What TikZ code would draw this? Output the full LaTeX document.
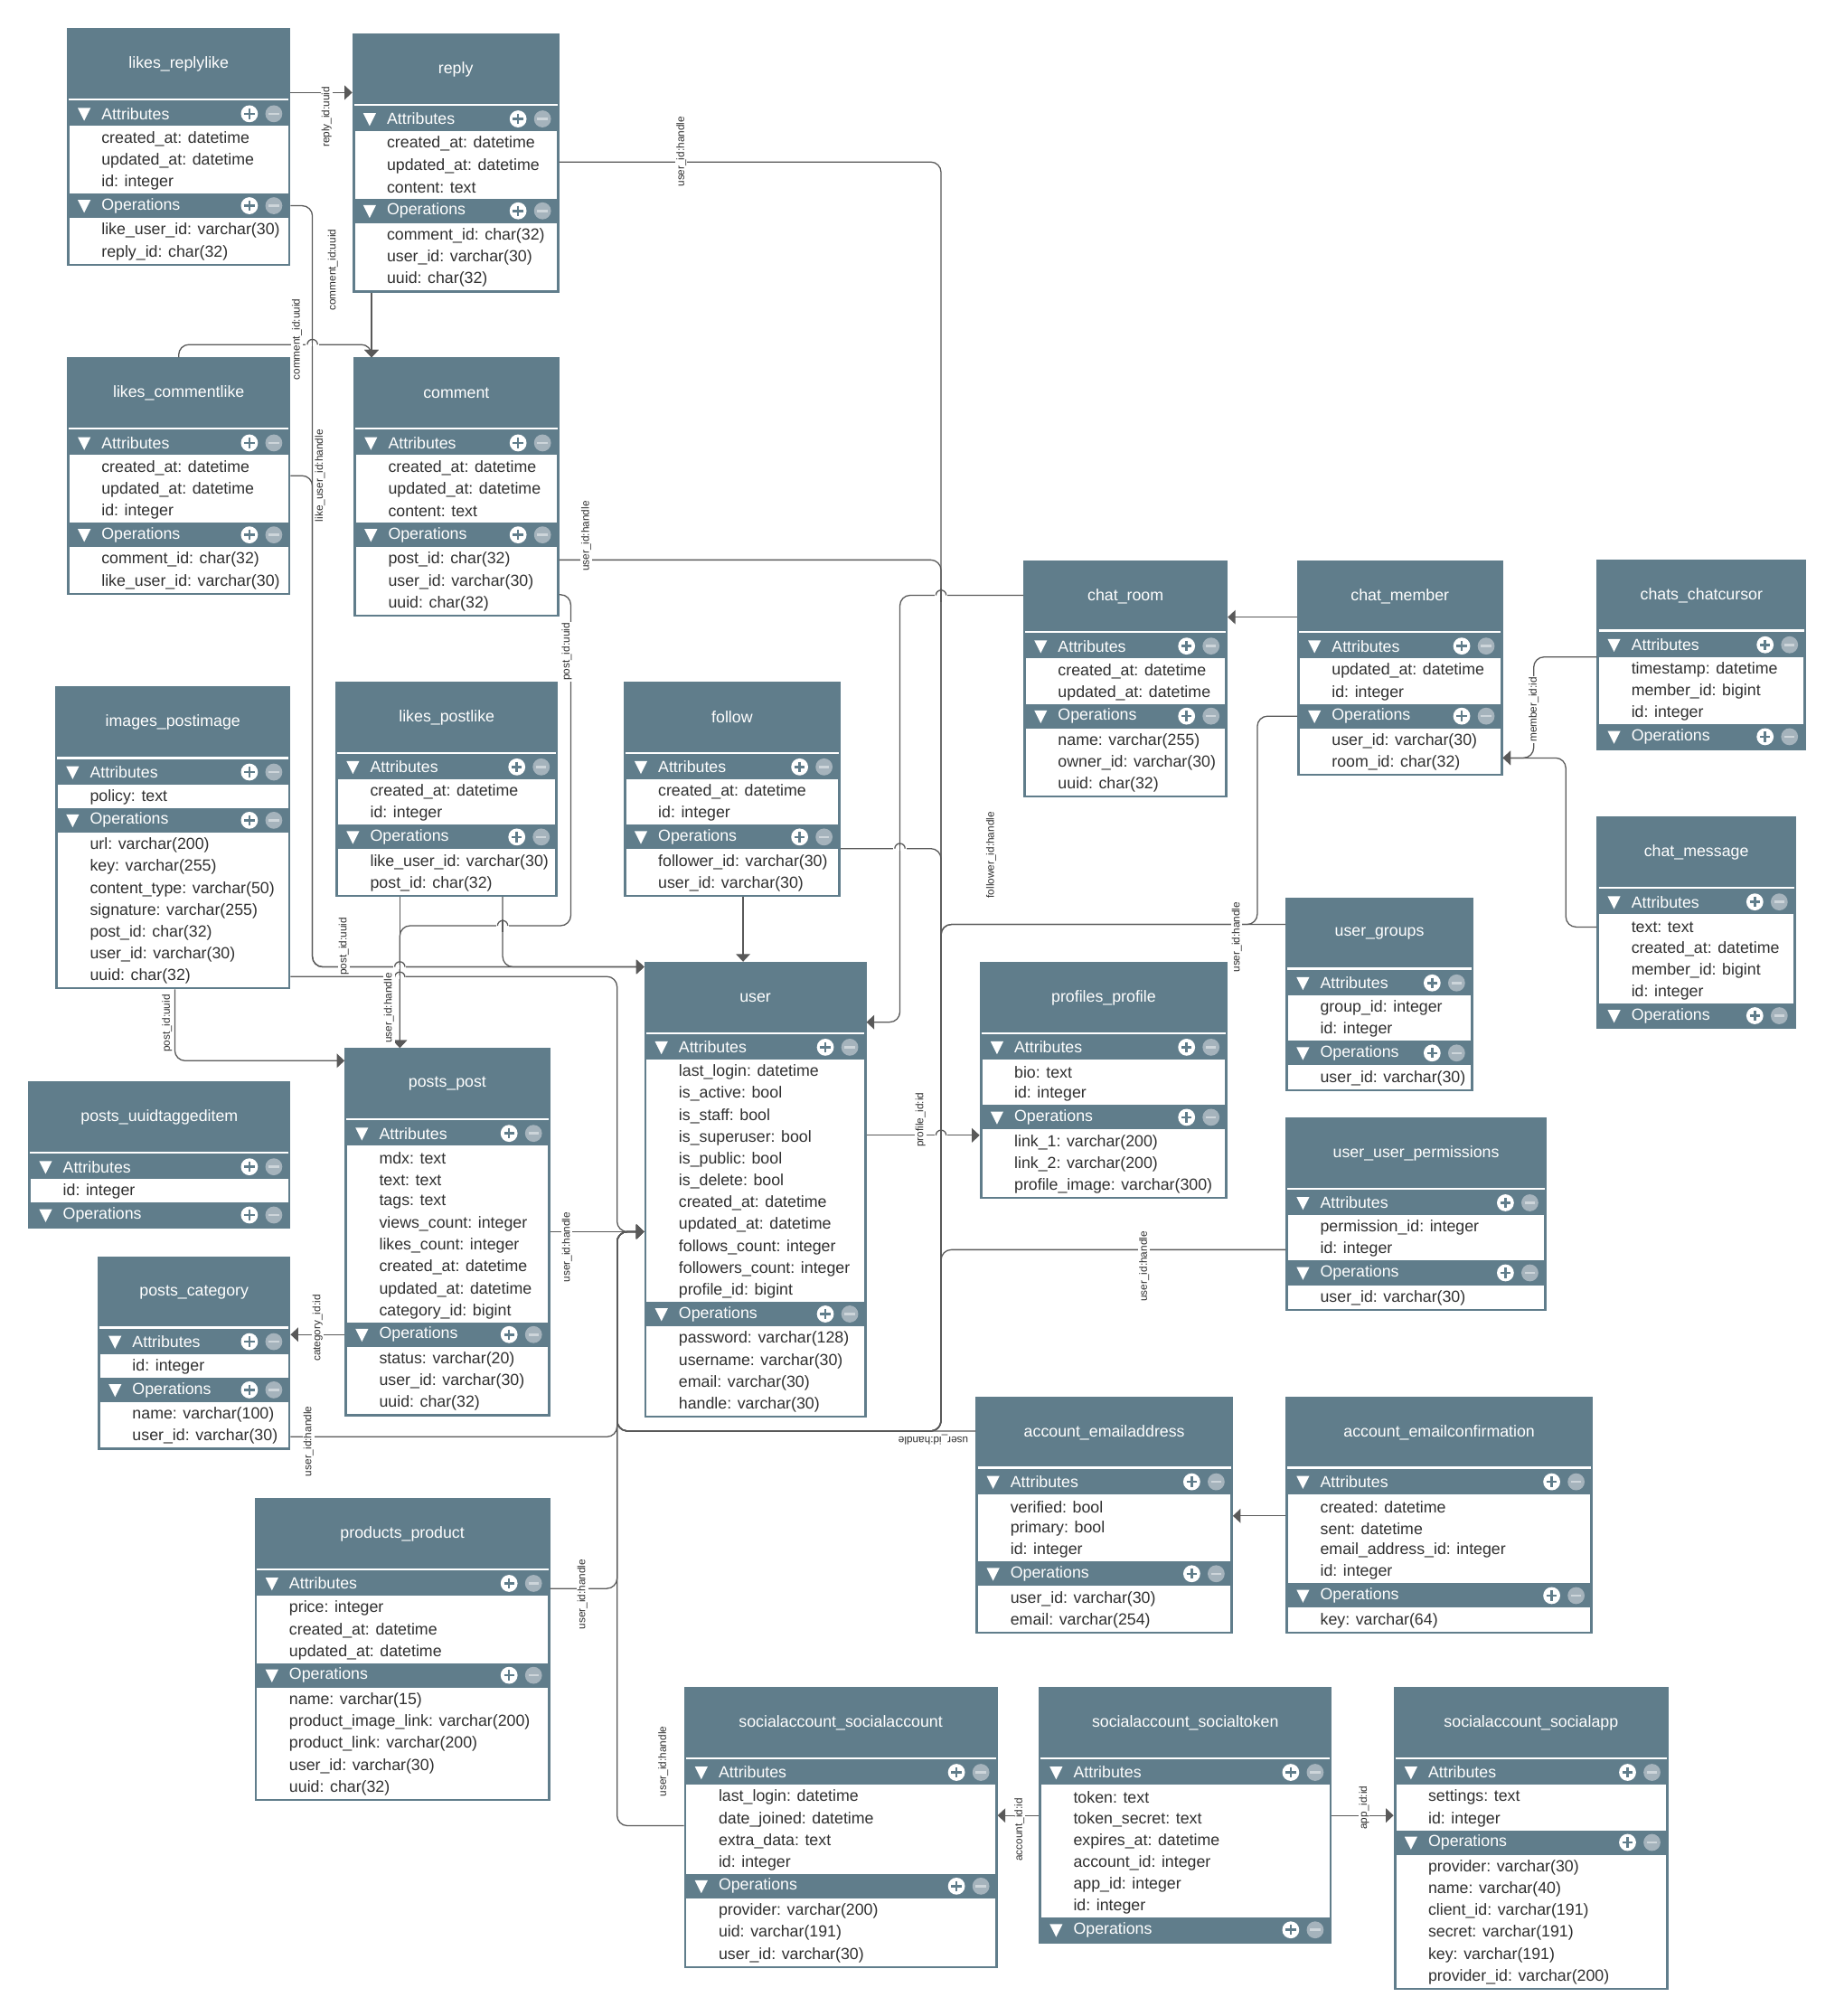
\documentclass[tikz,border=0pt]{standalone}
\usepackage{fontspec}
\setmainfont{Liberation Sans}
\usetikzlibrary{arrows.meta,calc}

\definecolor{pizarra}{HTML}{607D8B}
\definecolor{menos}{HTML}{A5B3BC}
\definecolor{menosraya}{HTML}{CDD5DA}
\definecolor{linea}{HTML}{595959}
\definecolor{texto}{HTML}{303030}

% barra de seccion: nombre, x izq, x der, y sup, texto
\newcommand{\barra}[5]{%
  \pgfmathsetmacro{\bw}{#3-#2}%
  \node[caja, minimum width=\bw pt, minimum height=19pt] (#1) at ({(#2+#3)/2},{#4+9.5}) {};
  \fill[white] ({#2+8.5},{#4+5}) -- ({#2+18.5},{#4+5}) -- ({#2+13.5},{#4+15}) -- cycle;
  \node[rotulo] (#1-t) at ({#2+27},{#4+9.5}) {#5};
  \fill[white] ({#3-32},{#4+9.5}) circle[radius=6.6pt];
  \draw[pizarra, line width=1.8pt] ({#3-36},{#4+9.5}) -- ({#3-28},{#4+9.5})
    ({#3-32},{#4+5.5}) -- ({#3-32},{#4+13.5});
  \fill[menos] ({#3-13},{#4+9.5}) circle[radius=6.6pt];
  \draw[menosraya, line width=1.8pt] ({#3-17},{#4+9.5}) -- ({#3-9},{#4+9.5});
}

% tabla: nombre, x, y, ancho, titulo, atributos, operaciones
\newcommand{\tabla}[7]{%
  \pgfmathsetmacro{\xr}{#2+#4}%
  \xdef\na{0}\foreach \r [count=\i] in {#6} {\xdef\na{\i}}%
  \xdef\no{0}\if\relax\detokenize{#7}\relax\else\foreach \r [count=\i] in {#7} {\xdef\no{\i}}\fi
  \pgfmathsetmacro{\yo}{#3+77.5+17*\na}%
  \pgfmathsetmacro{\yb}{\yo+20.5+17*\no+(\no>0 ? 1.5 : -0.5)}%
  \pgfmathsetmacro{\hh}{\yb-#3}%
  \fill[pizarra] (#2,#3) rectangle (\xr,\yb);
  \node[caja, minimum width=#4pt, minimum height=\hh pt] (#1) at ({#2+#4/2},{(#3+\yb)/2}) {};
  \node[cabecera, minimum width=#4pt] (#1-h) at ({#2+#4/2},{#3+27}) {};
  \node[titulo] (#1-h-t) at ({#2+#4/2},{#3+28}) {#5};
  \draw[white, line width=1.6pt] ({#2+1.5},{#3+55.5}) -- ({\xr-1.5},{#3+55.5});
  \barra{#1-ab}{#2}{\xr}{#3+57}{Attributes}
  \fill[white] ({#2+2},{#3+76}) rectangle ({\xr-2},\yo);
  \foreach \r [count=\i] in {#6} {
    \node[fila, minimum width=#4pt] (#1-a\i) at ({#2+#4/2},{#3+77.5+17*\i-8.5}) {};
    \node[celda] (#1-a\i-t) at ({#2+27},{#3+77.5+17*\i-8.5}) {\r};
  }
  \barra{#1-ob}{#2}{\xr}{\yo}{Operations}
  \if\relax\detokenize{#7}\relax\else
  \fill[white] ({#2+2},{\yo+19}) rectangle ({\xr-2},{\yb-1.5});
  \foreach \r [count=\i] in {#7} {
    \node[fila, minimum width=#4pt] (#1-o\i) at ({#2+#4/2},{\yo+20.5+17*\i-8.5}) {};
    \node[celda] (#1-o\i-t) at ({#2+27},{\yo+20.5+17*\i-8.5}) {\r};
  }\fi
}

% salto de linea en un cruce
\newcommand{\salto}[2]{%
  \fill[white] ({#1-5},{#2-1.6}) rectangle ({#1+5},{#2+1.6});
  \draw[conexion] (#1,{#2-5}) -- (#1,{#2+5});
  \draw[conexion] ({#1-4},#2) arc[start angle=180, end angle=0, radius=4pt];
}

\begin{document}
\begin{tikzpicture}[x=1pt, y=-1pt, >={Triangle[length=6pt,width=11pt]},
  caja/.style={rectangle, draw=none, inner sep=0pt, outer sep=0pt},
  cabecera/.style={caja, minimum height=54pt},
  titulo/.style={caja, text=white, font=\fontsize{12.5}{15}\selectfont},
  fila/.style={caja, minimum height=17pt},
  celda/.style={caja, anchor=west, text=texto, font=\fontsize{12.5}{15}\selectfont},
  rotulo/.style={celda, text=white},
  conexion/.style={draw=linea, line width=0.9pt, rounded corners=8pt},
  flecha/.style={conexion, ->},
  etiqueta/.style={fill=white, inner sep=0.6pt, text=texto, font=\fontsize{8.3}{9}\selectfont, rotate=90}]
  \fill[white] (0,0) rectangle (1427,1568);
  \useasboundingbox (0,0) rectangle (1427,1568);

  \tabla{likesreplylike}{52}{22}{174}{likes\_replylike}{created\_at: datetime, updated\_at: datetime, id: integer}{like\_user\_id: varchar(30), reply\_id: char(32)}
  \tabla{reply}{274}{26}{161}{reply}{created\_at: datetime, updated\_at: datetime, content: text}{comment\_id: char(32), user\_id: varchar(30), uuid: char(32)}
  \tabla{likescommentlike}{52}{278}{174}{likes\_commentlike}{created\_at: datetime, updated\_at: datetime, id: integer}{comment\_id: char(32), like\_user\_id: varchar(30)}
  \tabla{comment}{275}{278}{160}{comment}{created\_at: datetime, updated\_at: datetime, content: text}{post\_id: char(32), user\_id: varchar(30), uuid: char(32)}
  \tabla{imagespostimage}{43}{534}{183}{images\_postimage}{policy: text}{url: varchar(200), key: varchar(255), content\_type: varchar(50), signature: varchar(255), post\_id: char(32), user\_id: varchar(30), uuid: char(32)}
  \tabla{likespostlike}{261}{530}{173}{likes\_postlike}{created\_at: datetime, id: integer}{like\_user\_id: varchar(30), post\_id: char(32)}
  \tabla{follow}{485}{530}{169}{follow}{created\_at: datetime, id: integer}{follower\_id: varchar(30), user\_id: varchar(30)}
  \tabla{user}{501}{748}{173}{user}{last\_login: datetime, is\_active: bool, is\_staff: bool, is\_superuser: bool, is\_public: bool, is\_delete: bool, created\_at: datetime, updated\_at: datetime, follows\_count: integer, followers\_count: integer, profile\_id: bigint}{password: varchar(128), username: varchar(30), email: varchar(30), handle: varchar(30)}
  \tabla{postspost}{268}{815}{160}{posts\_post}{mdx: text, text: text, tags: text, views\_count: integer, likes\_count: integer, created\_at: datetime, updated\_at: datetime, category\_id: bigint}{status: varchar(20), user\_id: varchar(30), uuid: char(32)}
  \tabla{postsuuidtaggeditem}{22}{841}{204}{posts\_uuidtaggeditem}{id: integer}{}
  \tabla{postscategory}{76}{977}{150}{posts\_category}{id: integer}{name: varchar(100), user\_id: varchar(30)}
  \tabla{productsproduct}{198}{1165}{230}{products\_product}{price: integer, created\_at: datetime, updated\_at: datetime}{name: varchar(15), product\_image\_link: varchar(200), product\_link: varchar(200), user\_id: varchar(30), uuid: char(32)}
  \tabla{chatroom}{796}{436}{159}{chat\_room}{created\_at: datetime, updated\_at: datetime}{name: varchar(255), owner\_id: varchar(30), uuid: char(32)}
  \tabla{chatmember}{1009}{436}{160}{chat\_member}{updated\_at: datetime, id: integer}{user\_id: varchar(30), room\_id: char(32)}
  \tabla{chatschatcursor}{1242}{435}{163}{chats\_chatcursor}{timestamp: datetime, member\_id: bigint, id: integer}{}
  \tabla{chatmessage}{1242}{635}{155}{chat\_message}{text: text, created\_at: datetime, member\_id: bigint, id: integer}{}
  \tabla{usergroups}{1000}{698}{146}{user\_groups}{group\_id: integer, id: integer}{user\_id: varchar(30)}
  \tabla{profilesprofile}{762}{748}{193}{profiles\_profile}{bio: text, id: integer}{link\_1: varchar(200), link\_2: varchar(200), profile\_image: varchar(300)}
  \tabla{userpermissions}{1000}{869}{203}{user\_user\_permissions}{permission\_id: integer, id: integer}{user\_id: varchar(30)}
  \tabla{accountemailaddress}{759}{1086}{200}{account\_emailaddress}{verified: bool, primary: bool, id: integer}{user\_id: varchar(30), email: varchar(254)}
  \tabla{accountemailconfirmation}{1000}{1086}{239}{account\_emailconfirmation}{created: datetime, sent: datetime, email\_address\_id: integer, id: integer}{key: varchar(64)}
  \tabla{socialaccount}{532}{1312}{244}{socialaccount\_socialaccount}{last\_login: datetime, date\_joined: datetime, extra\_data: text, id: integer}{provider: varchar(200), uid: varchar(191), user\_id: varchar(30)}
  \tabla{socialtoken}{808}{1312}{228}{socialaccount\_socialtoken}{token: text, token\_secret: text, expires\_at: datetime, account\_id: integer, app\_id: integer, id: integer}{}
  \tabla{socialapp}{1084}{1312}{214}{socialaccount\_socialapp}{settings: text, id: integer}{provider: varchar(30), name: varchar(40), client\_id: varchar(191), secret: varchar(191), key: varchar(191), provider\_id: varchar(200)}

  % carriles de las conexiones
  \coordinate (likeLane) at (243,0);
  \coordinate (leftLane) at (480,0);
  \coordinate (userLane) at (732,0);
  \coordinate (roomLane) at (700,0);
  \coordinate (postLane) at (444,720);
  \coordinate (postDrop) at (311,0);
  \coordinate (memberLane) at (978,0);
  \coordinate (cursorLane) at (1193,0);
  \coordinate (messageLane) at (1218,0);
  \coordinate (userL1) at ([yshift=-4pt]user.north west);
  \coordinate (userL2) at ([yshift=-210pt]user.north west);
  \coordinate (userR) at ([yshift=-47pt]user.north east);
  \coordinate (memberR) at ([yshift=4pt]chatmember-o2.east);
  \coordinate (ug) at ([yshift=6pt]usergroups-h.west);

  \draw[flecha] ([yshift=-23pt]likesreplylike-h.east) coordinate (rl) -- (rl -| reply.west);
  \draw[flecha] ([xshift=15pt]reply.south west) coordinate (rc) -- (rc |- comment.north);
  \draw[flecha] (likescommentlike.north) -- ++(0,-10) -| (rc |- comment.north);
  \draw[flecha] (likesreplylike-ob.east) -| (likeLane |- userL1) -- (userL1);
  \draw[flecha] ([yshift=-6pt]likescommentlike-a1.east) -| (likeLane |- userL1) -- (userL1);
  \draw[flecha] ([xshift=130pt]likespostlike.south west) |- (userL1);
  % user_id -> user, tronco derecho
  \draw[flecha] ([yshift=3pt]reply-a2.east) -| (userLane |- accountemailaddress-h.west) -| (leftLane |- userL2) -- (userL2);
  \draw[flecha] (comment-o1.east) -| (userLane |- accountemailaddress-h.west) -| (leftLane |- userL2) -- (userL2);
  \draw[flecha] ([yshift=-9pt]follow-ob.east) -| (userLane |- accountemailaddress-h.west) -| (leftLane |- userL2) -- (userL2);
  \draw[flecha] (ug) -| (userLane |- accountemailaddress-h.west) -| (leftLane |- userL2) -- (userL2);
  \draw[flecha] (chatmember-ob.west) -| (memberLane |- ug) -| (userLane |- accountemailaddress-h.west) -| (leftLane |- userL2) -- (userL2);
  \draw[flecha] (userpermissions-a2.west) -| (userLane |- accountemailaddress-h.west) -| (leftLane |- userL2) -- (userL2);
  \draw[flecha] (accountemailaddress-h.west) -| (leftLane |- userL2) -- (userL2);
  % tronco izquierdo
  \draw[flecha] (imagespostimage-o7.east) -| (leftLane |- userL2) -- (userL2);
  \draw[flecha] (postscategory-o2.east) -| (leftLane |- userL2) -- (userL2);
  \draw[flecha] ([yshift=-4pt]productsproduct-ab.east) -| (leftLane |- userL2) -- (userL2);
  \draw[flecha] ([yshift=-5pt]socialaccount-a2.west) -| (leftLane |- userL2) -- (userL2);
  \draw[flecha] (userL2 -| postspost.east) -- (userL2);
  % posts
  \draw[flecha] ([yshift=-10pt]comment-o2.east) -| (postLane) -| (postDrop |- postspost.north);
  \draw[flecha] (postDrop |- likespostlike.south) -- (postDrop |- postspost.north);
  \draw[flecha] ([xshift=93pt]imagespostimage.south west) |- ([yshift=-10pt]postspost.north west);
  \draw[flecha] (postspost-ob.west) -- (postspost-ob.west -| postscategory.east);
  \draw[flecha] ([xshift=93pt]follow.south west) coordinate (fw) -- (fw |- user.north);
  \draw[flecha] (chatroom-h.west) -| (roomLane |- userR) -- (userR);
  \draw[flecha] ([yshift=2pt]user-a4.east) coordinate (up) -- (up -| profilesprofile.west);
  % chat
  \draw[flecha] ([yshift=-17pt]chatmember-h.west) coordinate (cm) -- (cm -| chatroom.east);
  \draw[flecha] ([yshift=-9.5pt]chatschatcursor-ab.west) -| (cursorLane |- memberR) -- (memberR);
  \draw[flecha] (chatmessage-a1.west) -| (messageLane |- memberR) -- (memberR);
  % account
  \draw[flecha] ([yshift=-7pt]accountemailconfirmation-a1.west) coordinate (ec) -- (ec -| accountemailaddress.east);
  \draw[flecha] ([yshift=3pt]socialtoken-a2.west) coordinate (ta) -- (ta -| socialaccount.east);
  \draw[flecha] ([yshift=3pt]socialtoken-a2.east) coordinate (tp) -- (tp -| socialapp.west);

  \salto{243}{268}
  \salto{732}{463}
  \salto{700}{660}
  \salto{732}{883}
  \salto{311}{752}
  \salto{311}{760}
  \salto{391}{720}

  \node[etiqueta] (lbA) at (254,91) {reply\_id:uuid};
  \node[etiqueta] (lbB) at (259,210) {comment\_id:uuid};
  \node[etiqueta] (lbC) at (231,264) {comment\_id:uuid};
  \node[etiqueta] (lbD) at (249,370) {like\_user\_id:handle};
  \node[etiqueta] (lbE) at (530,118) {user\_id:handle};
  \node[etiqueta] (lbF) at (456,417) {user\_id:handle};
  \node[etiqueta] (lbG) at (441,507) {post\_id:uuid};
  \node[etiqueta] (lbH) at (267.5,736) {post\_id:uuid};
  \node[etiqueta] (lbI) at (302.5,784) {user\_id:handle};
  \node[etiqueta] (lbJ) at (130,796) {post\_id:uuid};
  \node[etiqueta] (lbK) at (771,665) {follower\_id:handle};
  \node[etiqueta] (lbL) at (962,729) {user\_id:handle};
  \node[etiqueta] (lbM) at (1193,552) {member\_id:id};
  \node[etiqueta] (lbN) at (716,871) {profile\_id:id};
  \node[etiqueta] (lbO) at (441,970) {user\_id:handle};
  \node[etiqueta] (lbP) at (890,985) {user\_id:handle};
  \node[etiqueta] (lbQ) at (247,1033) {category\_id:id};
  \node[etiqueta] (lbR) at (240,1121) {user\_id:handle};
  \node[etiqueta, rotate=90] (lbS) at (726,1120) {user\_id:handle};
  \node[etiqueta] (lbT) at (453,1240) {user\_id:handle};
  \node[etiqueta] (lbU) at (516,1370) {user\_id:handle};
  \node[etiqueta] (lbV) at (793,1423) {account\_id:id};
  \node[etiqueta] (lbW) at (1061,1406) {app\_id:id};
\end{tikzpicture}
\end{document}
